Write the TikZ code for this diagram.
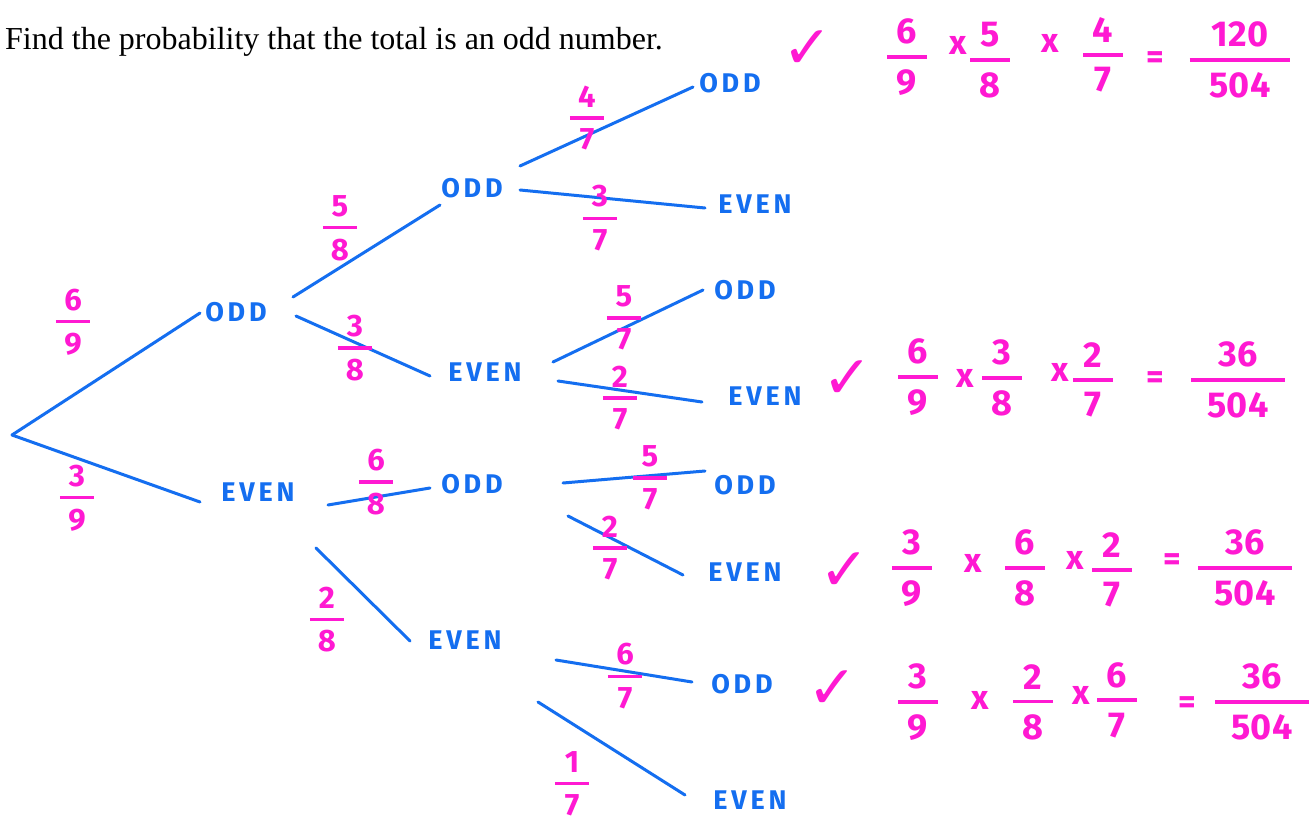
\documentclass[tikz,border=0pt]{standalone}
\usepackage{amsmath}
\usepackage{fontspec}
\setmainfont{Liberation Serif}
\newfontfamily\hand{Fira Sans}
\newfontfamily\handsp[LetterSpace=14]{Fira Sans}
\newfontfamily\dejavu{DejaVu Sans}
\definecolor{tblue}{RGB}{20,110,240}
\definecolor{pink}{RGB}{255,25,210}
\newcommand\hf[3][1.1em]{$\genfrac{}{}{0.1em}{0}{\makebox[#1]{#2}}{\mbox{#3}}$}
\tikzset{
  br/.style={draw=tblue, line width=3pt, line cap=round},
  lbl/.style={font=\handsp\bfseries\fontsize{27}{29}\selectfont, text=tblue, inner sep=0pt},
  pf/.style={font=\hand\bfseries\fontsize{31}{33}\selectfont, text=pink, inner sep=0pt},
  pp/.style={font=\hand\bfseries\fontsize{36}{40}\selectfont, text=pink, inner sep=0pt},
  px/.style={font=\hand\bfseries\fontsize{34}{36}\selectfont, text=pink, inner sep=0pt},
  ck/.style={font=\dejavu\bfseries\fontsize{60}{62}\selectfont, text=pink, inner sep=0pt},
}
\begin{document}
\begin{tikzpicture}[x=1pt,y=-1pt]
\useasboundingbox[fill=white] (0,0) rectangle (1309,826);
\node[anchor=base west, font=\fontsize{32}{34}\selectfont, inner sep=0pt] (title) at (5,50) {Find the probability that the total is an odd number.};

% branch end points
\coordinate (r) at (12,435);
\coordinate (a1) at (200,313); \coordinate (a2) at (200,502);
\coordinate (b1s) at (293,297); \coordinate (b1e) at (440,205);
\coordinate (b2s) at (296,316); \coordinate (b2e) at (430,376);
\coordinate (c1s) at (520,166); \coordinate (c1e) at (693,87);
\coordinate (c2s) at (520,190); \coordinate (c2e) at (705,208);
\coordinate (c3s) at (553,362); \coordinate (c3e) at (703,290);
\coordinate (c4s) at (558,381); \coordinate (c4e) at (702,402);
\coordinate (b3s) at (328,505); \coordinate (b3e) at (430,488);
\coordinate (b4s) at (316,548); \coordinate (b4e) at (410,641);
\coordinate (c5s) at (563,483); \coordinate (c5e) at (705,471);
\coordinate (c6s) at (568,516); \coordinate (c6e) at (683,575);
\coordinate (c7s) at (556,660); \coordinate (c7e) at (692,682);
\coordinate (c8s) at (538,702); \coordinate (c8e) at (685,795);

\draw[br] (r) -- (a1);
\draw[br] (r) -- (a2);
\draw[br] (b1s) -- (b1e);
\draw[br] (b2s) -- (b2e);
\draw[br] (c1s) -- (c1e);
\draw[br] (c2s) -- (c2e);
\draw[br] (c3s) -- (c3e);
\draw[br] (c4s) -- (c4e);
\draw[br] (b3s) -- (b3e);
\draw[br] (b4s) -- (b4e);
\draw[br] (c5s) -- (c5e);
\draw[br] (c6s) -- (c6e);
\draw[br] (c7s) -- (c7e);
\draw[br] (c8s) -- (c8e);

% blue outcome labels
\node[lbl] (o) at (236,312) {ODD};
\node[lbl] (e) at (258,492) {EVEN};
\node[lbl] (oo) at (472,188) {ODD};
\node[lbl] (oe) at (485,372) {EVEN};
\node[lbl] (ooo) at (730,83) {ODD};
\node[lbl] (ooe) at (755,204) {EVEN};
\node[lbl] (oeo) at (745,290) {ODD};
\node[lbl] (oee) at (765,396) {EVEN};
\node[lbl] (eo) at (472,484) {ODD};
\node[lbl] (ee) at (465,640) {EVEN};
\node[lbl] (eoo) at (745,485) {ODD};
\node[lbl] (eoe) at (745,572) {EVEN};
\node[lbl] (eeo) at (742,684) {ODD};
\node[lbl] (eee) at (750,800) {EVEN};

% branch probabilities
\node[pf] (p1) at (73,322) {\hf{6}{9}};
\node[pf] (p2) at (77,498) {\hf{3}{9}};
\node[pf] (p3) at (340,228) {\hf{5}{8}};
\node[pf] (p4) at (355,348) {\hf{3}{8}};
\node[pf] (p5) at (587,118) {\hf{4}{7}};
\node[pf] (p6) at (600,218) {\hf{3}{7}};
\node[pf] (p7) at (624,318) {\hf{5}{7}};
\node[pf] (p8) at (620,398) {\hf{2}{7}};
\node[pf] (p9) at (376,482) {\hf{6}{8}};
\node[pf] (p10) at (327,620) {\hf{2}{8}};
\node[pf] (p11) at (650,478) {\hf{5}{7}};
\node[pf] (p12) at (610,548) {\hf{2}{7}};
\node[pf] (p13) at (625,676) {\hf{6}{7}};
\node[pf] (p14) at (572,784) {\hf{1}{7}};

% row 1
\node[ck] (k1) at (808,50) {✓};
\node[pp] (r1a) at (907,57) {\hf{6}{9}};
\node[px] (r1x1) at (958,45) {x};
\node[pp] (r1b) at (990,60) {\hf{5}{8}};
\node[px] (r1x2) at (1050,43) {x};
\node[pp] (r1c) at (1103,55) {\hf{4}{7}};
\node[px] (r1q) at (1155,60) {=};
\node[pp] (r1r) at (1240,60) {\hf[2.8em]{120}{504}};
% row 2
\node[ck] (k2) at (848,380) {✓};
\node[pp] (r2a) at (918,377) {\hf{6}{9}};
\node[px] (r2x1) at (965,378) {x};
\node[pp] (r2b) at (1002,378) {\hf{3}{8}};
\node[px] (r2x2) at (1060,372) {x};
\node[pp] (r2c) at (1093,380) {\hf{2}{7}};
\node[px] (r2q) at (1155,380) {=};
\node[pp] (r2r) at (1238,380) {\hf[2.6em]{36}{504}};
% row 3
\node[ck] (k3) at (845,572) {✓};
\node[pp] (r3a) at (912,568) {\hf{3}{9}};
\node[px] (r3x1) at (973,563) {x};
\node[pp] (r3b) at (1025,568) {\hf{6}{8}};
\node[px] (r3x2) at (1075,560) {x};
\node[pp] (r3c) at (1112,570) {\hf{2}{7}};
\node[px] (r3q) at (1172,562) {=};
\node[pp] (r3r) at (1245,568) {\hf[2.6em]{36}{504}};
% row 4
\node[ck] (k4) at (833,690) {✓};
\node[pp] (r4a) at (918,702) {\hf{3}{9}};
\node[px] (r4x1) at (980,700) {x};
\node[pp] (r4b) at (1033,702) {\hf{2}{8}};
\node[px] (r4x2) at (1081,695) {x};
\node[pp] (r4c) at (1117,700) {\hf{6}{7}};
\node[px] (r4q) at (1187,705) {=};
\node[pp] (r4r) at (1262,702) {\hf[2.6em]{36}{504}};
\end{tikzpicture}
\end{document}
